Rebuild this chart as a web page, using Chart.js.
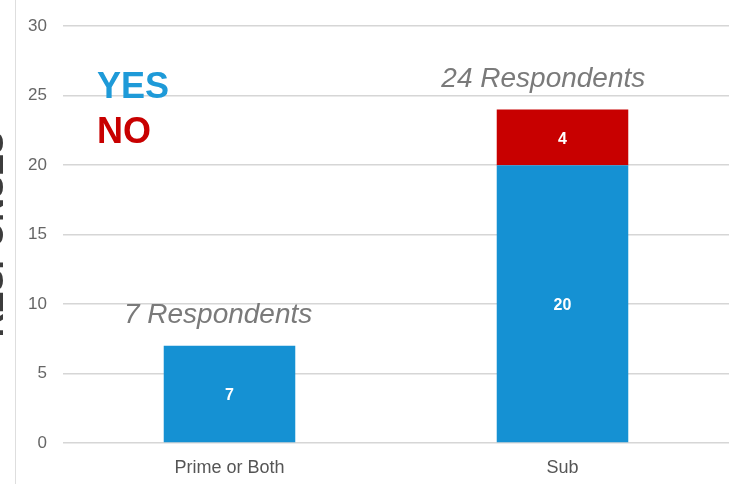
<!DOCTYPE html>
<html>
<head>
<meta charset="utf-8">
<script src="https://cdn.jsdelivr.net/npm/chart.js@4"></script>
<style>
  html, body { margin: 0; padding: 0; background: #fff; }
  #wrap { position: relative; width: 730px; height: 484px; }
  #edge { position: absolute; left: 15px; top: 0; bottom: 0; width: 1px; background: #dedede; }
</style>
</head>
<body>
<div id="wrap">
  <canvas id="barDiagram" width="730" height="484"></canvas>
  <div id="edge"></div>
</div>
<script>
const categories = ['Prime or Both', 'Sub'];
const yesValues = [7, 20];
const noValues = [0, 4];
const respondents = [7, 24];
const seriesLabels = ['YES', 'NO'];
const yMin = 0, yMax = 30, yStep = 5;

const blue = '#1591d3';
const red = '#c80000';
const fontFamily = '"Liberation Sans", Arial, sans-serif';

Chart.defaults.font.family = fontFamily;

// white numbers inside each bar segment
const segmentLabels = {
  id: 'segmentLabels',
  afterDatasetsDraw(chart) {
    const ctx = chart.ctx;
    ctx.save();
    ctx.fillStyle = '#fff';
    ctx.font = 'bold 16px ' + fontFamily;
    ctx.textAlign = 'center';
    ctx.textBaseline = 'middle';
    chart.data.datasets.forEach((ds, di) => {
      chart.getDatasetMeta(di).data.forEach((el, i) => {
        if (!ds.data[i]) return;
        ctx.fillText(String(ds.data[i]), el.x, (el.y + el.base) / 2 + 2);
      });
    });
    ctx.restore();
  }
};

// "N Respondents" above each stack
const totalLabels = {
  id: 'totalLabels',
  afterDatasetsDraw(chart) {
    const ctx = chart.ctx;
    const y = chart.scales.y;
    ctx.save();
    ctx.fillStyle = '#7a7a7a';
    ctx.font = 'italic 28px ' + fontFamily;
    ctx.textAlign = 'right';
    ctx.textBaseline = 'alphabetic';
    chart.getDatasetMeta(0).data.forEach((el, i) => {
      ctx.fillText(respondents[i] + ' Respondents', el.x + el.width / 2 + 17, y.getPixelForValue(respondents[i]) - 23);
    });
    ctx.restore();
  }
};

// coloured YES / NO legend in the top-left of the plot
const textLegend = {
  id: 'textLegend',
  afterDraw(chart) {
    const ctx = chart.ctx;
    ctx.save();
    ctx.font = 'bold 36px ' + fontFamily;
    ctx.textAlign = 'left';
    ctx.textBaseline = 'alphabetic';
    chart.data.datasets.forEach((ds, di) => {
      ctx.fillStyle = di === 0 ? '#1e9ad8' : ds.backgroundColor;
      ctx.fillText(ds.label, 97, 98 + di * 45);
    });
    ctx.restore();
  }
};

const configBar = {
  type: 'bar',
  data: {
    labels: categories,
    datasets: [
      { label: seriesLabels[0], data: yesValues, backgroundColor: blue },
      { label: seriesLabels[1], data: noValues, backgroundColor: red }
    ]
  },
  options: {
    responsive: false,
    animation: false,
    categoryPercentage: 1,
    barPercentage: 0.395,
    layout: { padding: { top: 26, right: 1, bottom: 0, left: 0 } },
    plugins: {
      legend: { display: false },
      tooltip: { enabled: false }
    },
    scales: {
      x: {
        stacked: true,
        grid: { display: false, drawTicks: false },
        border: { display: false },
        ticks: { color: '#555', font: { size: 18 }, padding: 14 },
        afterFit(scale) { scale.height = 41; }
      },
      y: {
        stacked: true,
        min: yMin,
        max: yMax,
        ticks: { stepSize: yStep, color: '#666', font: { size: 17 }, padding: 16 },
        grid: { color: '#d6d6d6', lineWidth: 1.5, drawTicks: false },
        border: { display: false },
        title: {
          display: true,
          text: 'RESPONSES',
          color: '#3c3c3c',
          font: { size: 33, weight: 'bold' },
          padding: { top: -26, bottom: 0 }
        },
        afterFit(scale) { scale.width = 63; }
      }
    }
  },
  plugins: [segmentLabels, totalLabels, textLegend]
};

const barDiagram = new Chart(document.getElementById('barDiagram'), configBar);
</script>
</body>
</html>
